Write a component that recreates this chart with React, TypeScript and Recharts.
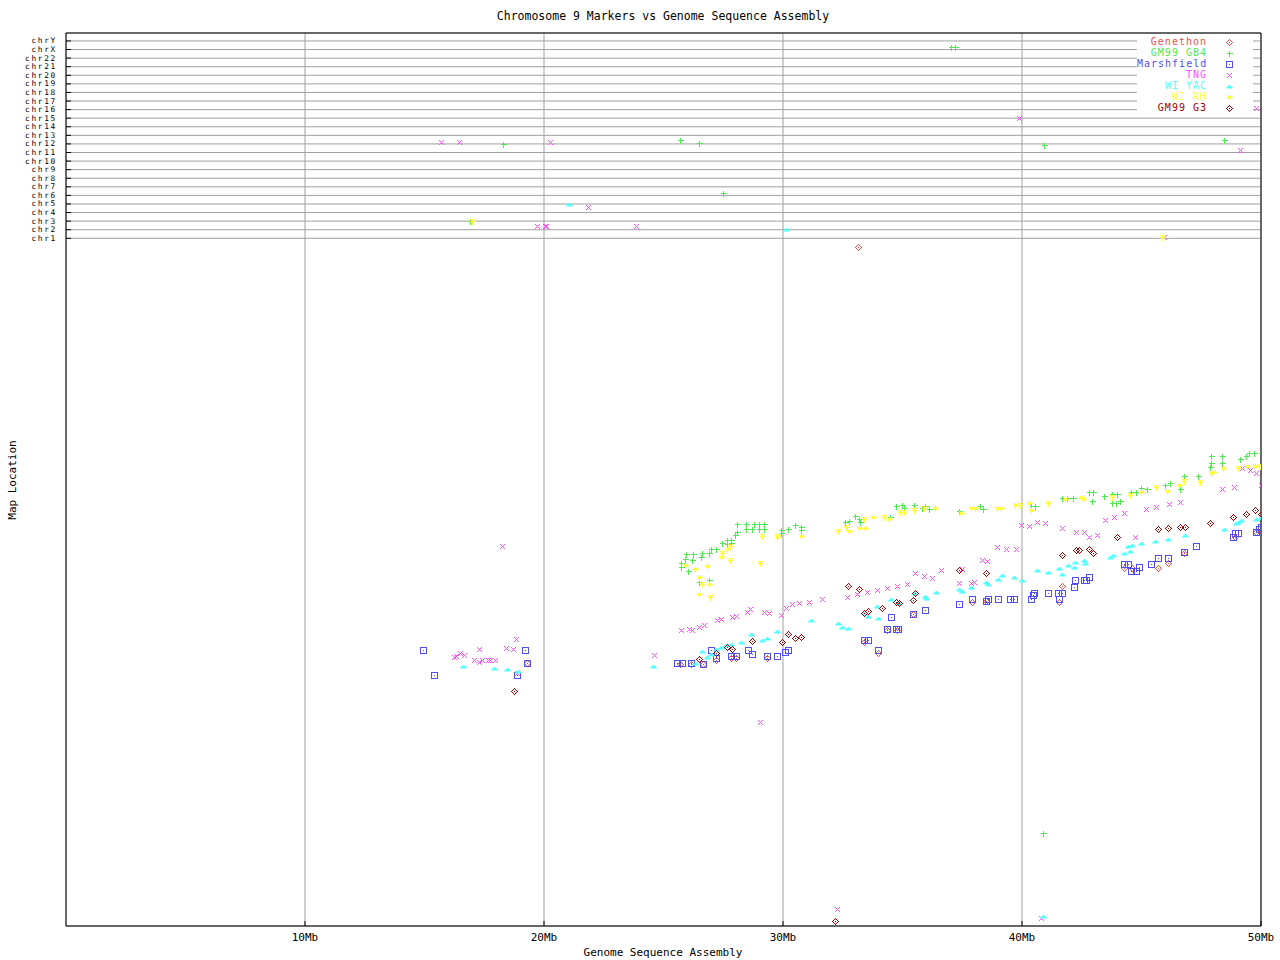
import React from "react";
import {
  ScatterChart,
  Scatter,
  XAxis,
  YAxis,
  CartesianGrid,
  ReferenceArea,
} from "recharts";

type Pt = [number, number];

// x = Mb along the assembly, y = map location (chart units)
const genethon: Pt[] = [
  [19.3, 262.7], [25.71, 262], [26.17, 262], [26.64, 261.7], [27.2, 266], [27.83, 267.7],
  [28.04, 267.7], [29.32, 267.7], [33.38, 284.3], [33.97, 272.7], [34.36, 296], [34.75, 296],
  [35.45, 312], [37.92, 323.7], [38.5, 324.7], [41.68, 340.3], [41.54, 323.7], [44.26, 357.7],
  [44.61, 357.7], [45.68, 357.7], [46.1, 363.3], [46.77, 373.3], [48.93, 388.7], [49.8, 394.3],
  [33.12, 679],
];

const gm99gb4: Pt[] = [
  [25.74, 362.7], [25.74, 359.3], [25.92, 366.7], [25.95, 371.7], [26.02, 355], [26.2, 366],
  [26.23, 371.7], [26.48, 344.3], [26.55, 369.3], [26.62, 372.7], [26.9, 372.7], [26.9, 346],
  [26.97, 376.7], [27.18, 376.7], [27.46, 382.7], [27.64, 386], [27.64, 381.7], [27.83, 386],
  [27.83, 382.7], [28.01, 391], [28.08, 394.3], [28.08, 401.7], [28.44, 401.7], [28.44, 396.7],
  [28.71, 396.7], [28.78, 401.7], [28.99, 401.7], [28.99, 396.7], [29.2, 401.7], [29.2, 396.7],
  [29.9, 392.7], [29.92, 396], [30.2, 396.7], [30.49, 400.7], [30.74, 398.7], [30.74, 396],
  [32.59, 404], [32.75, 405], [33.0, 409.7], [33.2, 407.3], [33.24, 404], [34.47, 408.7],
  [34.74, 420], [34.97, 420.7], [35.05, 418.3], [35.5, 420.7], [35.82, 418.3], [35.96, 420],
  [36.12, 416.7], [37.36, 415], [38.26, 419.7], [38.38, 416.7], [40.36, 420.3], [40.54, 420.3],
  [41.68, 427.7], [41.89, 427.7], [42.13, 427.7], [42.79, 434.3], [42.98, 433.7], [42.94, 424.7],
  [43.42, 430.3], [43.77, 432], [43.98, 432], [43.77, 423.3], [44.09, 425.3], [43.94, 422.7],
  [44.54, 433.7], [44.75, 434.3], [44.96, 437.7], [45.24, 436.7], [46.0, 441], [46.21, 442.7],
  [46.6, 437.3], [46.77, 450.3], [47.36, 450], [47.86, 458.7], [47.92, 463.3], [47.92, 470],
  [48.38, 470], [48.38, 462.7], [49.14, 467], [49.39, 470], [49.49, 472.7], [49.7, 472.7],
  [49.98, 472.7], [40.87, 92.7],
  // hits on other chromosomes
  [18.28, 781.7], [25.68, 785.7], [26.48, 782.7], [27.48, 733], [16.92, 705], [37.04, 879],
  [37.18, 879], [40.91, 780.7], [48.47, 785.7],
];

const marshfield: Pt[] = [
  [14.93, 275.7], [15.39, 250.7], [19.2, 275.7], [18.86, 250.7], [19.3, 262.7], [25.57, 262.7],
  [25.77, 262.7], [26.16, 262.7], [26.64, 261.7], [26.98, 275.7], [27.2, 267.7], [27.83, 269.7],
  [28.04, 269.7], [28.53, 275.7], [28.71, 271.7], [29.32, 269.7], [29.74, 269.7], [30.08, 273.7],
  [30.2, 275.7], [33.38, 285.7], [33.56, 285.7], [33.97, 275.7], [34.34, 297], [34.71, 297],
  [34.82, 297], [34.53, 308.7], [35.43, 312], [35.93, 315.7], [37.36, 321.7], [37.92, 326.7],
  [38.5, 324.7], [38.59, 326.7], [38.99, 326.7], [39.48, 326.7], [39.67, 326.7], [40.37, 326.7],
  [40.45, 330.7], [40.49, 332.7], [41.08, 332.7], [41.5, 332.7], [41.68, 332.7], [41.54, 326.7],
  [42.17, 339.3], [42.21, 346], [42.59, 346], [42.69, 346], [42.79, 348.7], [44.26, 361.7],
  [44.44, 361.7], [44.58, 355], [44.75, 355], [44.89, 358.7], [45.39, 361.7], [45.68, 367.7],
  [46.1, 367.7], [46.77, 373.7], [47.27, 379.7], [48.82, 388.7], [48.9, 392.7], [49.04, 392.7],
  [49.77, 394.3], [49.91, 396.7], [49.99, 398.7],
];

const tng: Pt[] = [
  [16.23, 269.3], [16.31, 270], [16.48, 272.7], [16.65, 270.7], [17.09, 266], [17.29, 276.7],
  [17.29, 264], [17.41, 266], [17.65, 266], [17.76, 266], [17.94, 266], [18.4, 277.7],
  [18.69, 276.7], [18.82, 286.7], [18.88, 253.3], [18.25, 380.3], [24.59, 270.7], [25.74, 295.7],
  [26.06, 297.3], [26.2, 296], [26.48, 299.3], [26.69, 301], [27.22, 306], [27.39, 307],
  [27.88, 309.3], [28.02, 310], [28.48, 314.3], [28.64, 316.7], [29.2, 314.3], [29.41, 313.3],
  [29.9, 311], [30.13, 317.7], [30.39, 321.7], [30.66, 323.3], [31.08, 324.3], [31.64, 326.7],
  [32.69, 329.3], [33.1, 332], [33.52, 334], [33.94, 336], [34.36, 338.3], [34.78, 340.3],
  [35.2, 341.7], [35.54, 352.7], [35.89, 350], [36.24, 348.3], [36.63, 356], [37.36, 342.7],
  [37.5, 356.7], [37.85, 343.3], [37.99, 344.3], [38.34, 366], [38.55, 365.3], [38.96, 378.7],
  [39.31, 376.7], [39.73, 377.3], [39.94, 401], [40.29, 400], [40.64, 403.7], [40.95, 403],
  [41.68, 397.7], [42.24, 394.3], [42.59, 394.3], [42.79, 389.3], [43.15, 391], [43.49, 406],
  [43.84, 409.3], [44.26, 413.3], [44.72, 389.3], [45.17, 417], [45.59, 419.3], [46.14, 421.7],
  [46.63, 424.3], [48.38, 437], [48.86, 439.3], [49.21, 457.7], [49.56, 456], [49.77, 453.3],
  [49.98, 441], [29.02, 204], [40.8, 8.3], [32.25, 16.7],
  // hits on other chromosomes
  [15.71, 783.7], [16.44, 783.7], [20.24, 783.7], [21.83, 719.3], [19.7, 699.7], [20.06, 699.7],
  [20.1, 699.7], [23.83, 699.7], [39.87, 807.7], [49.11, 776], [49.8, 817.7], [45.96, 688.7],
];

const wiYac: Pt[] = [
  [16.6, 260], [17.9, 257.7], [18.44, 256.7], [18.9, 255], [24.55, 260.3], [26.31, 262.7],
  [26.62, 274.7], [26.83, 269.3], [26.97, 271.7], [27.18, 276.7], [27.41, 279], [27.62, 281],
  [27.83, 282.3], [28.24, 284.3], [28.67, 291.7], [29.14, 286], [29.34, 288], [29.74, 295.3],
  [31.16, 306], [32.29, 303], [32.46, 299], [32.71, 298.3], [33.41, 312.7], [33.56, 310.3],
  [33.95, 320.3], [33.97, 308], [34.51, 327], [34.82, 322.7], [35.47, 332.7], [35.93, 330.3],
  [36.0, 328], [36.39, 334], [37.36, 337], [37.5, 335], [37.85, 339.3], [38.51, 343.7],
  [38.59, 342], [38.99, 347], [39.17, 351], [39.66, 349], [40.02, 346], [40.62, 356],
  [41.08, 354], [41.54, 358.3], [41.68, 352], [41.92, 361], [42.17, 359.3], [42.21, 364.3],
  [42.59, 366], [42.63, 363.3], [43.67, 368.7], [43.81, 371], [44.26, 373.3], [44.5, 375.3],
  [44.61, 381], [44.44, 380], [44.96, 383], [45.56, 385.3], [46.12, 387.3], [46.81, 391],
  [48.44, 397], [48.96, 402.7], [49.05, 404.3], [49.18, 405.7], [49.77, 406.7], [49.98, 408.7],
  [40.89, 10],
  // hits on other chromosomes
  [21.04, 722.3], [30.12, 697.3], [45.21, 844.3],
];

const wiRh: Pt[] = [
  [25.92, 361], [26.31, 356.7], [26.48, 348.7], [26.62, 342], [26.48, 331.7], [26.83, 360],
  [26.9, 342], [26.94, 329], [27.41, 369.3], [27.46, 372.7], [27.64, 376.7], [27.8, 380],
  [27.77, 366], [29.03, 362.7], [29.13, 390], [29.73, 391], [29.76, 388.7], [30.74, 390],
  [32.29, 395], [32.64, 398.7], [32.75, 395.3], [33.17, 398], [33.45, 397.7], [33.38, 407],
  [33.76, 408.7], [34.22, 409.3], [34.43, 407.3], [34.89, 414], [35.05, 414], [35.5, 416],
  [35.92, 417.7], [36.38, 417.7], [37.46, 413.3], [37.87, 417.7], [38.05, 417.7], [38.96, 417.7],
  [39.14, 417.7], [39.69, 420.7], [39.91, 420.7], [40.28, 422.7], [40.36, 416], [41.08, 422.7],
  [41.82, 426.7], [42.45, 429.3], [42.56, 426.7], [43.77, 428.7], [44.5, 431], [44.96, 434.3],
  [45.59, 438.7], [46.05, 435.3], [46.56, 441], [46.77, 445.3], [47.44, 444.3], [47.89, 452.7],
  [48.0, 454.3], [48.42, 457.7], [49.03, 457.7], [49.42, 460], [49.73, 460], [49.95, 460],
  // hits on other chromosomes
  [17.0, 705], [45.84, 688.7],
];

const gm99g3: Pt[] = [
  [18.74, 234.7], [26.48, 266.7], [27.18, 272.7], [27.64, 279.3], [27.88, 276.7], [28.71, 285],
  [29.97, 283.7], [30.2, 291.7], [30.49, 287.7], [30.74, 289.3], [32.73, 340.3], [33.2, 336.7],
  [33.38, 312.7], [33.56, 315], [34.13, 318.3], [34.74, 323.7], [34.87, 322.7], [35.45, 326],
  [35.51, 332.7], [37.36, 356], [38.5, 352.7], [41.68, 371], [42.24, 376], [42.38, 376],
  [42.79, 376.7], [42.98, 372.7], [43.98, 388.7], [45.68, 396.7], [46.12, 397.7], [46.6, 398.7],
  [46.81, 398.7], [47.86, 402.7], [48.82, 408.7], [49.36, 411.7], [49.74, 415.7], [49.99, 412],
  [32.17, 4.7],
];

const xTicks = [10, 20, 30, 40, 50];
const chromosomes = [
  "chr1", "chr2", "chr3", "chr4", "chr5", "chr6", "chr7", "chr8", "chr9", "chr10", "chr11",
  "chr12", "chr13", "chr14", "chr15", "chr16", "chr17", "chr18", "chr19", "chr20", "chr21",
  "chr22", "chrX", "chrY",
];
const CHR_BASE = 687.7;
const CHR_STEP = 8.58;
const chrTicks = chromosomes.map((_, i) => CHR_BASE + i * CHR_STEP);

type Kind = "diamond" | "plus" | "box" | "cross" | "tri" | "star";

const series: { name: string; color: string; kind: Kind; data: Pt[] }[] = [
  { name: "Genethon", color: "#f05050", kind: "diamond", data: genethon },
  { name: "GM99 GB4", color: "#50e850", kind: "plus", data: gm99gb4 },
  { name: "Marshfield", color: "#5050f0", kind: "box", data: marshfield },
  { name: "TNG", color: "#ff50ff", kind: "cross", data: tng },
  { name: "WI YAC", color: "#50ffff", kind: "tri", data: wiYac },
  { name: "WI RH", color: "#ffff40", kind: "star", data: wiRh },
  { name: "GM99 G3", color: "#a00000", kind: "diamond", data: gm99g3 },
];

const FONT = "'DejaVu Sans Mono', monospace";

function marker(kind: Kind, cx: number, cy: number, color: string) {
  const x = Math.round(cx) + 0.5;
  const y = Math.round(cy) + 0.5;
  const s = { stroke: color, strokeWidth: 1, fill: "none", shapeRendering: "crispEdges" as const };
  switch (kind) {
    case "diamond":
      return (
        <g>
          <path d={`M${x},${y - 3}L${x + 3},${y}L${x},${y + 3}L${x - 3},${y}Z`} {...s} />
          <rect x={x - 0.5} y={y - 0.5} width={1} height={1} fill={color} />
        </g>
      );
    case "plus":
      return <path d={`M${x - 3},${y}H${x + 3}M${x},${y - 3}V${y + 3}`} {...s} />;
    case "box":
      return (
        <g>
          <rect x={x - 3} y={y - 3} width={6} height={6} {...s} />
          <rect x={x - 0.5} y={y - 0.5} width={1} height={1} fill={color} />
        </g>
      );
    case "cross":
      return <path d={`M${x - 2.5},${y - 2.5}L${x + 2.5},${y + 2.5}M${x + 2.5},${y - 2.5}L${x - 2.5},${y + 2.5}`} {...s} />;
    case "tri":
      return <path d={`M${x - 3},${y + 1.5}L${x},${y - 1.5}L${x + 3},${y + 1.5}Z`} stroke={color} fill={color} strokeWidth={1} />;
    case "star":
      return (
        <path
          d={`M${x - 3},${y}H${x + 3}M${x},${y - 3}V${y + 3}M${x - 2},${y - 2}L${x + 2},${y + 2}M${x + 2},${y - 2}L${x - 2},${y + 2}`}
          {...s}
        />
      );
  }
}

const LeftTick = (props: any) => {
  const { x, y, payload } = props;
  const idx = Math.round((payload.value - CHR_BASE) / CHR_STEP);
  return (
    <g>
      <line x1={x} x2={x + 5} y1={y} y2={y} stroke="#000" />
      <text
        x={x - 9} y={y} textAnchor="end" dominantBaseline="central"
        fontSize={7.8} letterSpacing={1.7} fontFamily={FONT} fill="#000"
      >
        {chromosomes[idx]}
      </text>
    </g>
  );
};

const RightTick = (props: any) => {
  const { x, y } = props;
  return <line x1={x - 7} x2={x} y1={y} y2={y} stroke="#000" />;
};

const BottomTick = (props: any) => {
  const { x, y, payload } = props;
  return (
    <g>
      <line x1={x} x2={x} y1={y} y2={y - 5} stroke="#000" />
      <text x={x} y={y + 11} textAnchor="middle" dominantBaseline="central" fontSize={11} fontFamily={FONT} fill="#000">
        {`${payload.value}Mb`}
      </text>
    </g>
  );
};

const TopTick = (props: any) => {
  const { x, y } = props;
  return <line x1={x} x2={x} y1={y} y2={y + 5} stroke="#000" />;
};

const App: React.FC = () => {
  return (
    <div style={{ position: "absolute", left: 0, top: 0, width: 1280, height: 960, background: "#fff" }}>
      <div
        style={{
          position: "absolute", left: 0, top: 9, width: 1326, textAlign: "center",
          fontFamily: FONT, fontSize: 11.5, lineHeight: "14px",
        }}
      >
        Chromosome 9 Markers vs Genome Sequence Assembly
      </div>
      <ScatterChart width={1280} height={960} margin={{ top: 0, right: 0, bottom: 0, left: 0 }}>
        <CartesianGrid stroke="#a0a0a0" />
        <XAxis
          type="number" dataKey="x" domain={[0, 50]} ticks={xTicks} allowDataOverflow
          height={34} tickSize={0} tickMargin={0} axisLine={false} tickLine={false} tick={<BottomTick />} interval={0}
        />
        <XAxis
          type="number" xAxisId="top" orientation="top" domain={[0, 50]} ticks={[10, 20, 30, 40]}
          height={33} tickSize={0} tickMargin={0} axisLine={false} tickLine={false} tick={<TopTick />} interval={0}
        />
        <YAxis
          type="number" dataKey="y" domain={[0, 893]} ticks={chrTicks} allowDataOverflow
          width={66} tickSize={0} tickMargin={0} axisLine={false} tickLine={false} tick={<LeftTick />} interval={0}
        />
        <YAxis
          type="number" yAxisId="right" orientation="right" domain={[0, 893]} ticks={chrTicks}
          width={19} tickSize={0} tickMargin={0} axisLine={false} tickLine={false} tick={<RightTick />} interval={0}
        />
        <ReferenceArea x1={0} x2={50} y1={0} y2={893} fill="none" stroke="#000" strokeWidth={1} ifOverflow="visible" />
        {series.map((s) => (
          <Scatter
            key={s.name}
            name={s.name}
            data={s.data.map(([x, y]) => ({ x, y }))}
            isAnimationActive={false}
            shape={(p: any) => marker(s.kind, p.cx, p.cy, s.color)}
          />
        ))}
      </ScatterChart>
      <div
        style={{
          position: "absolute", left: 1137, top: 37, width: 116, background: "#fff",
          fontFamily: FONT, fontSize: 10, letterSpacing: 1,
        }}
      >
        {series.map((s) => (
          <div key={s.name} style={{ display: "flex", alignItems: "center", height: 10.9 }}>
            <span
              style={{
                display: "block", width: 70, height: 10, lineHeight: "10px", textAlign: "right",
                color: s.color, whiteSpace: "pre", overflow: "visible",
              }}
            >
              {s.name}
            </span>
            <svg width={10} height={10} style={{ marginLeft: 17 }}>
              {marker(s.kind, 4.5, 4.5, s.color)}
            </svg>
          </div>
        ))}
      </div>
      <div
        style={{
          position: "absolute", left: 0, top: 946, width: 1326, textAlign: "center",
          fontFamily: FONT, fontSize: 11, lineHeight: "14px",
        }}
      >
        Genome Sequence Assembly
      </div>
      <div
        style={{
          position: "absolute", left: 12, top: 480, transform: "translate(-50%, -50%) rotate(-90deg)",
          fontFamily: FONT, fontSize: 11, whiteSpace: "nowrap",
        }}
      >
        Map Location
      </div>
    </div>
  );
};

export default App;
